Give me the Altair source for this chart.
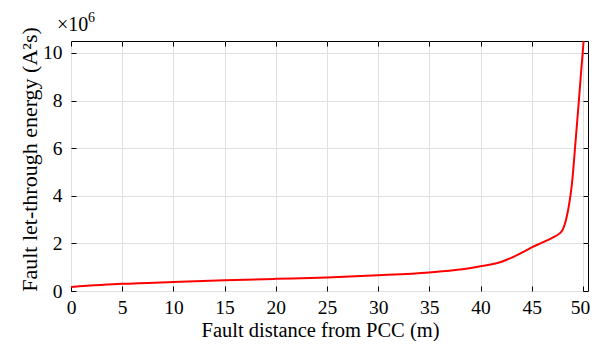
import altair as alt
import pandas as pd

distance = [0, 5, 10, 15, 20, 25, 30, 35, 38, 40, 41, 42, 43, 44, 45, 46, 47, 47.7, 48.0, 48.2,
            48.4, 48.6, 48.75, 48.87, 48.96, 49.1, 49.23, 49.42, 49.61, 49.79, 49.98, 50.07]
energy = [0.17, 0.30, 0.38, 0.45, 0.51, 0.57, 0.66, 0.78, 0.9, 1.04, 1.11, 1.22, 1.39, 1.60,
          1.83, 2.03, 2.23, 2.41, 2.55, 2.76, 3.08, 3.50, 3.90, 4.28, 4.62, 5.3, 6.0, 7.0,
          8.0, 9.0, 10.0, 10.5]
x_ticks = [0, 5, 10, 15, 20, 25, 30, 35, 40, 45, 50]
y_ticks = [0, 2, 4, 6, 8, 10]

df = pd.DataFrame({"x": distance, "y": energy})
FONT = "Times New Roman, Liberation Serif, serif"
INWARD = alt.ExprRef("-5")

xs = alt.Scale(domain=[0, 50.5], nice=False, zero=False)
ys = alt.Scale(domain=[0, 10.5], nice=False, zero=False)

base = alt.Chart(df)

main = base.mark_line(color="#ff0000", strokeWidth=2, interpolate="monotone", clip=True).encode(
    x=alt.X("x:Q", scale=xs, axis=alt.Axis(
        orient="bottom", values=x_ticks, title="Fault distance from PCC (m)",
        grid=True, ticks=True, tickSize=INWARD, tickColor="black", domain=False,
        labelPadding=27.8, labelBaseline="alphabetic",
        titleBaseline="alphabetic", titleX=249, titleY=45.3,
        labelOffset={"condition": {"test": "datum.value == 50", "value": -3}, "value": 0},
        labelFontSize=19.5, titleFontSize=20.5, labelFont=FONT, titleFont=FONT,
        titleFontWeight="normal", labelColor="black", titleColor="black",
        gridColor="#e0e0e0", gridWidth=1, labelFlush=False)),
    y=alt.Y("y:Q", scale=ys, axis=alt.Axis(
        orient="left", values=y_ticks, title="Fault let-through energy (A²s)",
        grid=True, ticks=True, tickSize=INWARD, tickColor="black", domain=False,
        labelPadding=14, titleBaseline="alphabetic", titleX=-35, titleY=118,
        labelFontSize=19.5, titleFontSize=22, labelFont=FONT, titleFont=FONT,
        titleFontWeight="normal", labelColor="black", titleColor="black",
        gridColor="#e0e0e0", gridWidth=1, labelFlush=False)),
)

opp = base.mark_line(opacity=0).encode(
    x=alt.X("x:Q", scale=xs, axis=alt.Axis(orient="top", labels=False, title=None, grid=False,
                                           domain=False, ticks=True, tickSize=INWARD,
                                           tickColor="black", values=x_ticks)),
    y=alt.Y("y:Q", scale=ys, axis=alt.Axis(orient="right", labels=False, title=None, grid=False,
                                           domain=False, ticks=True, tickSize=INWARD,
                                           tickColor="black", values=y_ticks)),
)

mult = alt.Chart(pd.DataFrame({"t": ["×10"]})).mark_text(
    font=FONT, fontSize=20, align="left", baseline="alphabetic", color="black"
).encode(x=alt.value(-14), y=alt.value(-10), text="t:N")
sup = alt.Chart(pd.DataFrame({"t": ["6"]})).mark_text(
    font=FONT, fontSize=14, align="left", baseline="alphabetic", color="black"
).encode(x=alt.value(17), y=alt.value(-19), text="t:N")

chart = alt.layer(main, opp, mult, sup).resolve_axis(
    x="independent", y="independent"
).properties(
    width=517, height=250,
    autosize=alt.AutoSizeParams(type="none"),
    padding={"left": 63, "top": 33, "right": 2, "bottom": 50},
).configure_view(stroke="black", strokeWidth=1)

chart.save("out.html", embed_options={"renderer": "svg", "actions": False})
